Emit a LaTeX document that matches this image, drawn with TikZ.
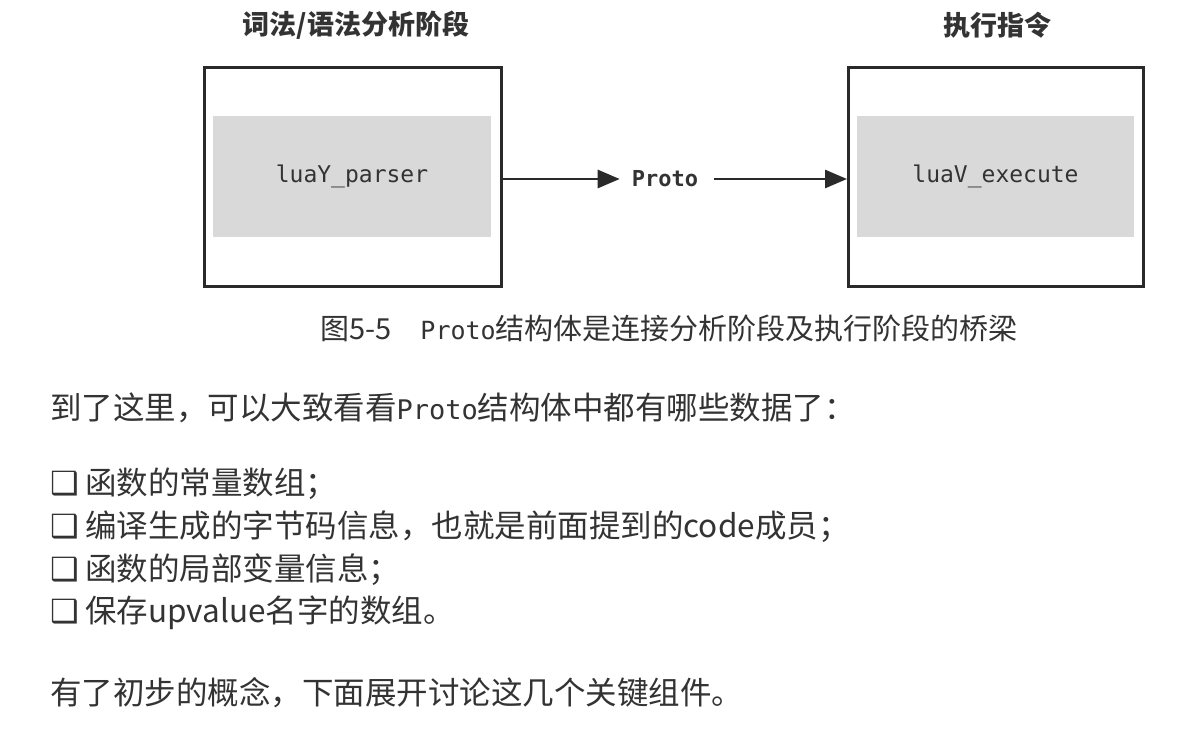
\documentclass[tikz,border=0pt]{standalone}
\usepackage{fontspec}
\setmainfont{Noto Sans CJK SC}
\newfontfamily\cjk{Noto Sans CJK SC}
\newfontfamily\monof{DejaVu Sans Mono}
\newfontfamily\dejav{DejaVu Sans}
\usetikzlibrary{arrows.meta}
\definecolor{ink}{HTML}{2A2A2A}
\definecolor{txt}{HTML}{333333}
\definecolor{shade}{HTML}{D9D9D9}
\newcommand{\chk}{{\dejav\fontsize{32}{36}\selectfont ❑}}
\tikzset{
  outerbox/.style={draw=ink, line width=3pt, minimum width=297pt, minimum height=218pt, inner sep=0pt},
  graybox/.style={fill=shade, draw=none, minimum width=278pt, minimum height=121pt, inner sep=0pt, font=\monof\fontsize{23}{27}\selectfont, text=txt},
  titletext/.style={font=\cjk\bfseries\fontsize{27}{32}\selectfont, text=txt},
  bodytext/.style={anchor=west, inner sep=0pt, font=\cjk\fontsize{31.5}{36}\selectfont, text=txt},
  captext/.style={anchor=west, inner sep=0pt, font=\cjk\fontsize{29}{34}\selectfont, text=txt},
  flow/.style={draw=ink, line width=2.8pt, -{Triangle[length=22pt,width=18pt]}}
}
\begin{document}
\begin{tikzpicture}[x=1pt,y=-1pt]
\useasboundingbox[fill=white] (0,0) rectangle (1188,751);
% boxes
\node[outerbox] (lbox) at (352.5,177) {};
\node[graybox] (lgray) at (352,176.5) {luaY\_parser};
\node[outerbox, minimum width=295pt] (rbox) at (996,177) {};
\node[graybox, minimum width=277pt] (rgray) at (995.5,176.5) {luaV\_execute};
% titles
\node[titletext] (ltitle) at (356,25) {词法/语法分析阶段};
\node[titletext] (rtitle) at (997,25) {执行指令};
% Proto
\node[font=\monof\bfseries\fontsize{22}{26}\selectfont, text=txt, inner xsep=0pt] (proto) at (665,179) {Proto};
\coordinate (a1s) at (lbox.east |- 0,179);
\coordinate (p1) at ([xshift=-12pt]proto.west);
\coordinate (p2) at ([xshift=16pt]proto.east);
\coordinate (a2e) at (rbox.west |- 0,179);
\draw[flow] (a1s) -- (p1);
\draw[flow] (p2) -- (a2e);
% caption
\node[captext] (cap) at (320,328) {图5-5\hspace{1em}{\monof\fontsize{25}{30}\selectfont Proto}结构体是连接分析阶段及执行阶段的桥梁};
% body
\node[bodytext] (para1) at (50,408) {到了这里，可以大致看看{\monof\fontsize{27}{32}\selectfont Proto}结构体中都有哪些数据了：};
\node[bodytext] (b1) at (50,484) {\chk\hspace{0.2em}函数的常量数组；};
\node[bodytext] (b2) at (50,527) {\chk\hspace{0.2em}编译生成的字节码信息，也就是前面提到的code成员；};
\node[bodytext] (b3) at (50,570) {\chk\hspace{0.2em}函数的局部变量信息；};
\node[bodytext] (b4) at (50,613) {\chk\hspace{0.2em}保存upvalue名字的数组。};
\node[bodytext] (para2) at (50,693) {有了初步的概念，下面展开讨论这几个关键组件。};
\end{tikzpicture}
\end{document}
